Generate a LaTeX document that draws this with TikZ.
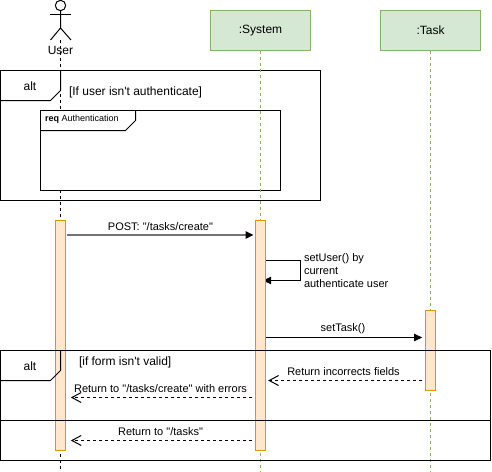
\documentclass[tikz,border=0pt]{standalone}
\usepackage{fontspec}
\newfontfamily\plainsans{Liberation Sans}
\usetikzlibrary{arrows.meta}
\definecolor{boxfill}{HTML}{D5E8D4}
\definecolor{boxline}{HTML}{82B366}
\definecolor{barfill}{HTML}{FFE6CC}
\definecolor{barline}{HTML}{D79B00}
\tikzset{
  x=0.75pt,y=-0.75pt,
  every node/.style={inner sep=0pt,outer sep=0pt,font=\plainsans\fontsize{9}{10.8}\selectfont},
  msg/.style={font=\plainsans\fontsize{8.25}{9.75}\selectfont},
  line/.style={draw=black,line width=0.75pt},
  participant/.style={draw=boxline,fill=boxfill,line width=0.75pt,minimum width=75pt,minimum height=30pt},
  lifeline/.style={draw=boxline,line width=0.75pt,dash pattern=on 2.25pt off 2.25pt},
  userline/.style={draw=black,line width=0.75pt,dash pattern=on 2.25pt off 2.25pt},
  bar/.style={draw=barline,fill=barfill,line width=0.75pt,minimum width=7.5pt},
  call/.style={draw=black,line width=0.75pt,-{Triangle[length=6pt,width=5.5pt,black]}},
  reply/.style={draw=black,line width=0.75pt,dash pattern=on 2.25pt off 2.25pt,-{Straight Barb[length=7pt,width=7.5pt]}},
}
\begin{document}
\begin{tikzpicture}
\useasboundingbox (0,0) rectangle (492,471);
\fill[white] (0,0) rectangle (492,471);
% actor
\coordinate (head) at (60.5,5.5);
\coordinate (neck) at (60.5,11);
\coordinate (hip) at (60.5,28);
\draw[line] (head) circle[radius=5.2];
\draw[line] (neck) -- (hip) -- (50.5,40) (hip) -- (71,40);
\draw[line] (50,14) -- (71,14);
% lifelines
\coordinate (uTop) at (60.5,40);
\coordinate (uBot) at (60.5,471);
\draw[userline] (uTop) -- (uBot);
\node[participant] (sys) at (260.5,30.5) {\raisebox{-0.75pt}{:System}};
\node[participant] (task) at (430.5,30.5) {\raisebox{-0.75pt}{:Task}};
\node (user) at (60.5,50) {User};
% first alt
\node[draw=black,line width=0.75pt,minimum width=240pt,minimum height=97.5pt] (alta) at (160.5,135.5) {};
\draw[line] (0.5,100.5) -- (50.5,100.5) -- (60.5,90.5) -- (60.5,70.5);
\node (altaT) at (30,86) {alt};
\node[anchor=west] (altaG) at (69,92) {[If user isn't authenticate]};
% req frame
\node[draw=black,fill=white,line width=0.75pt,minimum width=180pt,minimum height=60pt] (req) at (160.5,150.5) {};
\draw[line] (40.5,130.5) -- (125.5,130.5) -- (135.5,120.5) -- (135.5,110.5);
\node[anchor=west,font=\plainsans\fontsize{6.75}{8}\selectfont] (reqT) at (45,119.5) {\textbf{req} Authentication};
% green lifelines
\draw[lifeline] (sys.south) -- (260.5,471);
\draw[lifeline] (task.south) -- (430.5,471);
% self call runs under the bar
\coordinate (selfA) at (265.5,260.5);
\coordinate (selfB) at (300.5,260.5);
\coordinate (selfC) at (300.5,280.5);
\coordinate (selfD) at (263,280.5);
\draw[call] (selfA) -- (selfB) -- (selfC) -- (selfD);
% bars
\node[bar,minimum height=172.5pt] (ub) at (60.5,335.5) {};
\node[bar,minimum height=172.5pt] (sb) at (260.5,335.5) {};
\node[bar,minimum height=60pt] (tb) at (430.5,350.5) {};
% second alt
\node[draw=black,line width=0.75pt,minimum width=367.5pt,minimum height=82.5pt] (altb) at (245.5,405.5) {};
\draw[line] (0.5,380.5) -- (50.5,380.5) -- (60.5,370.5) -- (60.5,350.5);
\draw[line] (altb.west |- 0,420.5) -- (altb.east |- 0,420.5);
\node (altbT) at (30,366) {alt};
\node[anchor=west] (altbG) at (79,362) {[if form isn't valid]};
% messages
\draw[call,draw=black!55,line width=1.2pt] ([xshift=1pt]ub.east |- 0,235) -- ([xshift=-1.5pt]sb.west |- 0,235);
\node[msg] (m1) at (160.5,227) {POST: "/tasks/create"};
\node[msg,anchor=west,align=left] (m2) at (304,270.5) {setUser() by\\current\\authenticate user};
\draw[call] (sb.east |- 0,337.5) -- ([xshift=-2.5pt]tb.west |- 0,337.5);
\node[msg] (m3) at (343,329) {setTask()};
\draw[reply] ([xshift=-3pt]tb.west |- 0,380.5) -- ([xshift=2pt]sb.east |- 0,380.5);
\node[msg] (m4) at (343.5,372) {Return incorrects fields};
\draw[reply] ([xshift=-3pt]sb.west |- 0,397.5) -- ([xshift=4pt]ub.east |- 0,397.5);
\node[msg] (m5) at (160.5,389) {Return to "/tasks/create" with errors};
\draw[reply] ([xshift=-3pt]sb.west |- 0,440.5) -- ([xshift=4pt]ub.east |- 0,440.5);
\node[msg] (m6) at (160.5,432) {Return to "/tasks"};
\end{tikzpicture}
\end{document}
